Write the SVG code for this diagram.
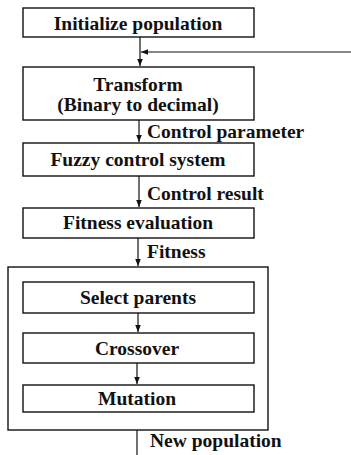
<svg xmlns="http://www.w3.org/2000/svg" width="351" height="455" viewBox="0 0 351 455">
  <defs>
    <marker id="ah" markerWidth="8" markerHeight="8" refX="7" refY="4" orient="auto" markerUnits="userSpaceOnUse">
      <path d="M0,1.2 L7,4 L0,6.8 Z" fill="#111"/>
    </marker>
  </defs>
  <rect width="351" height="455" fill="#fff"/>

  <g id="connectors" stroke="#111" stroke-width="1.2" fill="none">
    <line x1="140" y1="37" x2="140" y2="66" marker-end="url(#ah)"/>
    <line x1="351" y1="52" x2="141" y2="52" marker-end="url(#ah)"/>
    <line x1="139" y1="120" x2="139" y2="142" marker-end="url(#ah)"/>
    <line x1="139" y1="176" x2="139" y2="207" marker-end="url(#ah)"/>
    <line x1="138" y1="238" x2="138" y2="266" marker-end="url(#ah)"/>
    <line x1="138" y1="313" x2="138" y2="332" marker-end="url(#ah)"/>
    <line x1="137" y1="363" x2="137" y2="384" marker-end="url(#ah)"/>
    <line x1="137" y1="430" x2="137" y2="455"/>
  </g>
  <g id="labels">
    <text x="147" y="138" style="font-family:'Liberation Serif';font-weight:bold;font-size:19.5px;fill:#111">Control parameter</text>
    <text x="147" y="200" style="font-family:'Liberation Serif';font-weight:bold;font-size:19.5px;fill:#111">Control result</text>
    <text x="147" y="258" style="font-family:'Liberation Serif';font-weight:bold;font-size:19.5px;fill:#111">Fitness</text>
    <text x="150" y="447" style="font-family:'Liberation Serif';font-weight:bold;font-size:19.5px;fill:#111">New population</text>
  </g>

  <g id="init">
    <rect x="23" y="8" width="231" height="29" fill="#fff" stroke="#111" stroke-width="1.4"/>
    <text x="138" y="30" text-anchor="middle" style="font-family:'Liberation Serif';font-weight:bold;font-size:19.5px;fill:#111">Initialize population</text>
  </g>
  <g id="transform">
    <rect x="23" y="67" width="231" height="53" fill="#fff" stroke="#111" stroke-width="1.4"/>
    <text x="138" y="91" text-anchor="middle" style="font-family:'Liberation Serif';font-weight:bold;font-size:19.5px;fill:#111">Transform</text>
    <text x="138" y="111" text-anchor="middle" style="font-family:'Liberation Serif';font-weight:bold;font-size:19.5px;fill:#111">(Binary to decimal)</text>
  </g>
  <g id="fuzzy">
    <rect x="23" y="143" width="231" height="33" fill="#fff" stroke="#111" stroke-width="1.4"/>
    <text x="138" y="166" text-anchor="middle" style="font-family:'Liberation Serif';font-weight:bold;font-size:19.5px;fill:#111">Fuzzy control system</text>
  </g>
  <g id="fitness">
    <rect x="23" y="208" width="231" height="30" fill="#fff" stroke="#111" stroke-width="1.4"/>
    <text x="138" y="229" text-anchor="middle" style="font-family:'Liberation Serif';font-weight:bold;font-size:19.5px;fill:#111">Fitness evaluation</text>
  </g>
  <g id="ga-ops">
    <rect x="8" y="267" width="260" height="163" fill="none" stroke="#111" stroke-width="1.4"/>
  </g>
  <g id="select">
    <rect x="23" y="282" width="231" height="31" fill="#fff" stroke="#111" stroke-width="1.4"/>
    <text x="138" y="304" text-anchor="middle" style="font-family:'Liberation Serif';font-weight:bold;font-size:19.5px;fill:#111">Select parents</text>
  </g>
  <g id="crossover">
    <rect x="23" y="333" width="231" height="30" fill="#fff" stroke="#111" stroke-width="1.4"/>
    <text x="137" y="355" text-anchor="middle" style="font-family:'Liberation Serif';font-weight:bold;font-size:19.5px;fill:#111">Crossover</text>
  </g>
  <g id="mutation">
    <rect x="23" y="385" width="231" height="27" fill="#fff" stroke="#111" stroke-width="1.4"/>
    <text x="137" y="405" text-anchor="middle" style="font-family:'Liberation Serif';font-weight:bold;font-size:19.5px;fill:#111">Mutation</text>
  </g>
</svg>
